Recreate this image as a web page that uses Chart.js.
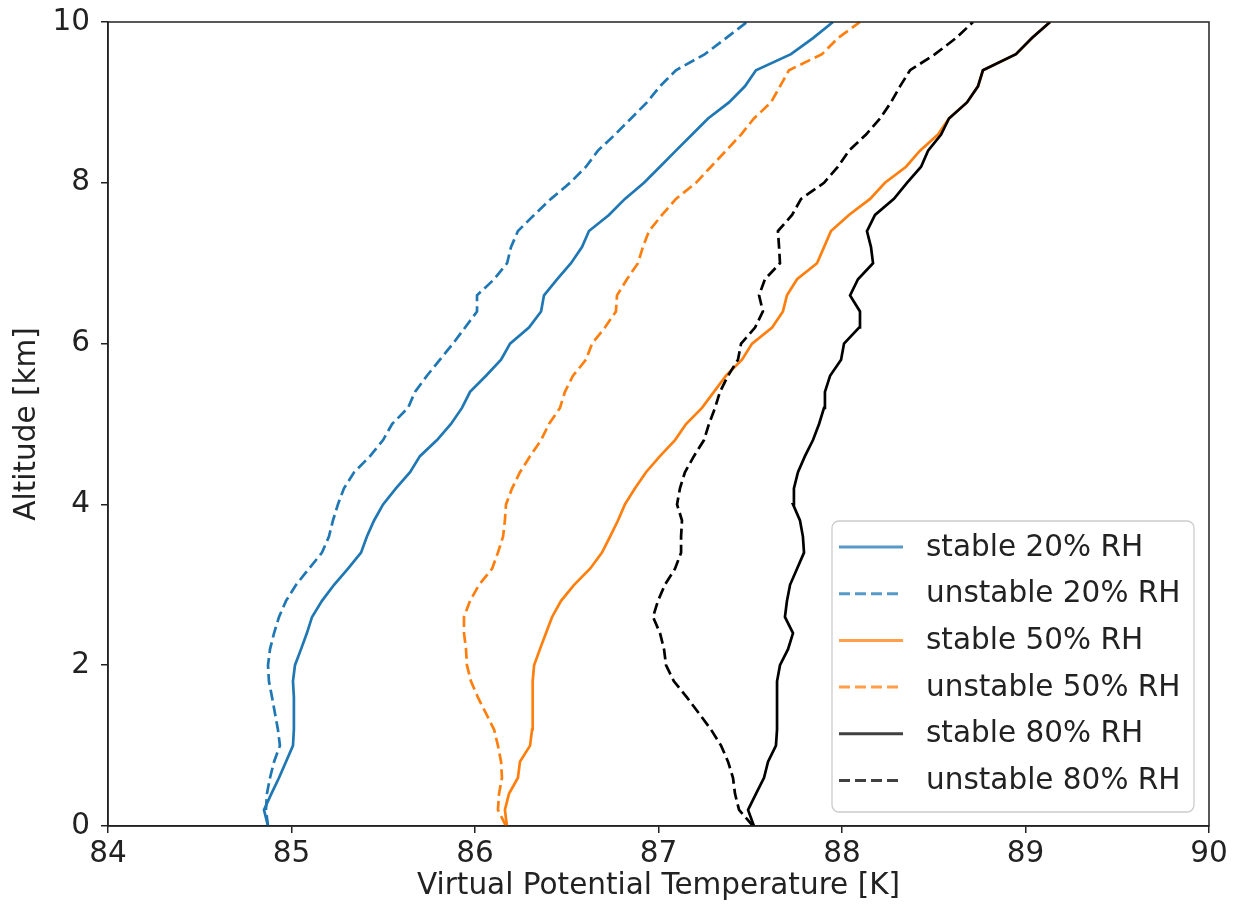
<!DOCTYPE html>
<html><head><meta charset="utf-8">
<script src="https://cdn.jsdelivr.net/npm/chart.js@4.4.1/dist/chart.umd.min.js"></script>
<style>html,body{margin:0;padding:0;background:#fff;}#wrap{width:1237px;height:917px;}</style>
</head><body>
<div id="wrap"><canvas id="c" width="1237" height="917"></canvas></div>
<script>
// ---- data ----
const altitudeKm = [0,0.2,0.4,0.6,0.8,1,1.2,1.4,1.6,1.8,2,2.2,2.4,2.6,2.8,3,3.2,3.4,3.6,3.8,4,4.2,4.4,4.6,4.8,5,5.2,5.4,5.6,5.8,6,6.2,6.4,6.6,6.8,7,7.2,7.4,7.6,7.8,8,8.2,8.4,8.6,8.8,9,9.2,9.4,9.6,9.8,10];
const stable20 = [84.872,84.850,84.890,84.932,84.970,85.008,85.013,85.013,85.013,85.008,85.019,85.052,85.084,85.112,85.166,85.232,85.308,85.379,85.411,85.450,85.499,85.569,85.646,85.700,85.793,85.869,85.929,85.973,86.060,86.142,86.191,86.294,86.360,86.376,86.447,86.523,86.583,86.621,86.730,86.817,86.921,87.008,87.095,87.183,87.270,87.384,87.471,87.531,87.722,87.842,87.951];
const unstable20 = [84.872,84.861,84.866,84.883,84.905,84.937,84.926,84.910,84.894,84.877,84.872,84.883,84.905,84.932,84.970,85.025,85.095,85.166,85.204,85.226,85.253,85.286,85.341,85.428,85.499,85.548,85.635,85.673,85.738,85.809,85.880,85.946,86.011,86.011,86.104,86.175,86.196,86.234,86.322,86.414,86.518,86.605,86.670,86.763,86.850,86.937,87.008,87.095,87.253,87.368,87.482];
const stable50 = [86.174,86.163,86.185,86.234,86.245,86.300,86.311,86.316,86.316,86.311,86.322,86.354,86.387,86.420,86.469,86.540,86.627,86.692,86.736,86.779,86.817,86.872,86.932,87.008,87.090,87.150,87.237,87.302,87.368,87.455,87.510,87.619,87.678,87.700,87.755,87.864,87.902,87.940,88.038,88.153,88.234,88.349,88.425,88.523,88.583,88.681,88.741,88.768,88.948,89.035,89.134];
const unstable50 = [86.169,86.125,86.131,86.147,86.142,86.125,86.104,86.060,86.016,85.978,85.956,85.951,85.940,85.940,85.973,86.022,86.093,86.125,86.153,86.163,86.169,86.202,86.245,86.300,86.360,86.403,86.463,86.490,86.534,86.605,86.638,86.708,86.768,86.774,86.828,86.888,86.915,86.948,87.019,87.095,87.204,87.286,87.368,87.450,87.520,87.613,87.662,87.711,87.891,87.978,88.098];
const stable80 = [87.520,87.488,87.531,87.575,87.597,87.640,87.646,87.646,87.646,87.646,87.662,87.706,87.733,87.689,87.700,87.717,87.755,87.793,87.787,87.771,87.733,87.738,87.760,87.798,87.842,87.875,87.902,87.907,87.935,87.995,88.011,88.093,88.098,88.044,88.087,88.169,88.158,88.136,88.180,88.283,88.354,88.431,88.469,88.540,88.583,88.681,88.741,88.768,88.948,89.035,89.134];
const unstable80 = [87.515,87.439,87.417,87.406,87.379,87.341,87.286,87.221,87.155,87.084,87.041,87.030,87.008,86.970,86.997,87.035,87.090,87.123,87.123,87.128,87.101,87.117,87.144,87.193,87.248,87.275,87.308,87.335,87.379,87.433,87.450,87.526,87.569,87.548,87.580,87.662,87.657,87.651,87.728,87.777,87.902,87.978,88.038,88.131,88.207,88.267,88.316,88.371,88.507,88.621,88.714];
const seriesLabels = ['stable 20% RH','unstable 20% RH','stable 50% RH','unstable 50% RH','stable 80% RH','unstable 80% RH'];
const xTicks = [84,85,86,87,88,89,90];
const yTicks = [0,2,4,6,8,10];
// ---------------------------------------------------

const seriesValues = [stable20, unstable20, stable50, unstable50, stable80, unstable80];
const colors = ['#1f77b4','#1f77b4','#ff7f0e','#ff7f0e','#000000','#000000'];
const dashed = [false,true,false,true,false,true];

const datasets = seriesValues.map((vals, i) => ({
  label: seriesLabels[i],
  data: vals.map((t, k) => ({x: t, y: altitudeKm[k]})),
  borderColor: colors[i],
  backgroundColor: colors[i],
  borderWidth: 2.7,
  borderDash: dashed[i] ? [11, 5] : [],
  showLine: true,
  pointRadius: 0,
  pointHoverRadius: 0,
  fill: false,
  tension: 0,
  order: seriesValues.length - i
}));

const FONT = '"DejaVu Sans", "Liberation Sans", sans-serif';
const FS = 29.5;
Chart.defaults.font.family = FONT;
Chart.defaults.font.size = FS;
Chart.defaults.color = '#222';

const framePlugin = {
  id: 'frameAndLegend',
  afterDatasetsDraw(chart) {
    const {ctx, chartArea: a} = chart;
    ctx.save();
    ctx.strokeStyle = '#222';
    ctx.lineWidth = 1.5;
    ctx.strokeRect(a.left, a.top, a.right - a.left, a.bottom - a.top);
    // legend
    const ds = chart.data.datasets;
    const boxW = 362, boxH = 291, rowH = 46.7;
    const x0 = a.right - 15 - boxW, y0 = a.bottom - 14 - boxH;
    ctx.beginPath();
    ctx.roundRect(x0, y0, boxW, boxH, 7);
    ctx.fillStyle = 'rgba(255,255,255,0.8)';
    ctx.fill();
    ctx.strokeStyle = '#cccccc';
    ctx.lineWidth = 1.3;
    ctx.stroke();
    ds.forEach((d, i) => {
      const cy = y0 + 26 + i * rowH;
      ctx.beginPath();
      ctx.setLineDash(d.borderDash || []);
      ctx.globalAlpha = 0.75;
      ctx.strokeStyle = d.borderColor;
      ctx.lineWidth = 3;
      ctx.moveTo(x0 + 7, cy);
      ctx.lineTo(x0 + 71, cy);
      ctx.stroke();
      ctx.globalAlpha = 1;
      ctx.setLineDash([]);
      ctx.fillStyle = '#222';
      ctx.font = FS + 'px ' + FONT;
      ctx.textBaseline = 'middle';
      ctx.textAlign = 'left';
      ctx.fillText(d.label, x0 + 94, cy + 1);
    });
    ctx.restore();
  }
};

new Chart(document.getElementById('c'), {
  type: 'scatter',
  data: {datasets},
  options: {
    responsive: false,
    animation: false,
    devicePixelRatio: 1,
    layout: {padding: {top: 22, right: 28, left: 0, bottom: 0}},
    plugins: {legend: {display: false}, tooltip: {enabled: false}},
    scales: {
      x: {
        type: 'linear', min: 84, max: 90,
        afterBuildTicks: s => { s.ticks = xTicks.map(v => ({value: v})); },
        afterFit: s => { s.height = 91; s.paddingLeft = 0; s.paddingRight = 0; },
        grid: {drawOnChartArea: false, drawTicks: true, tickLength: 7, color: '#222', lineWidth: 1.5},
        border: {display: true, color: '#222', width: 1.5},
        ticks: {padding: 4, color: '#222', font: {size: FS}, maxRotation: 0, autoSkip: false},
        title: {display: true, text: 'Virtual Potential Temperature [K]', color: '#222', font: {size: FS}, padding: {top: 0, bottom: 13}}
      },
      y: {
        type: 'linear', min: 0, max: 10,
        afterBuildTicks: s => { s.ticks = yTicks.map(v => ({value: v})); },
        afterFit: s => { s.width = 108; s.paddingTop = 0; s.paddingBottom = 0; },
        grid: {drawOnChartArea: false, drawTicks: true, tickLength: 7, color: '#222', lineWidth: 1.5},
        border: {display: true, color: '#222', width: 1.5},
        ticks: {padding: 11, color: '#222', font: {size: FS}, autoSkip: false},
        title: {display: true, text: 'Altitude [km]', color: '#222', font: {size: FS}, padding: {top: 10, bottom: 0}}
      }
    }
  },
  plugins: [framePlugin]
});
</script>
</body></html>
